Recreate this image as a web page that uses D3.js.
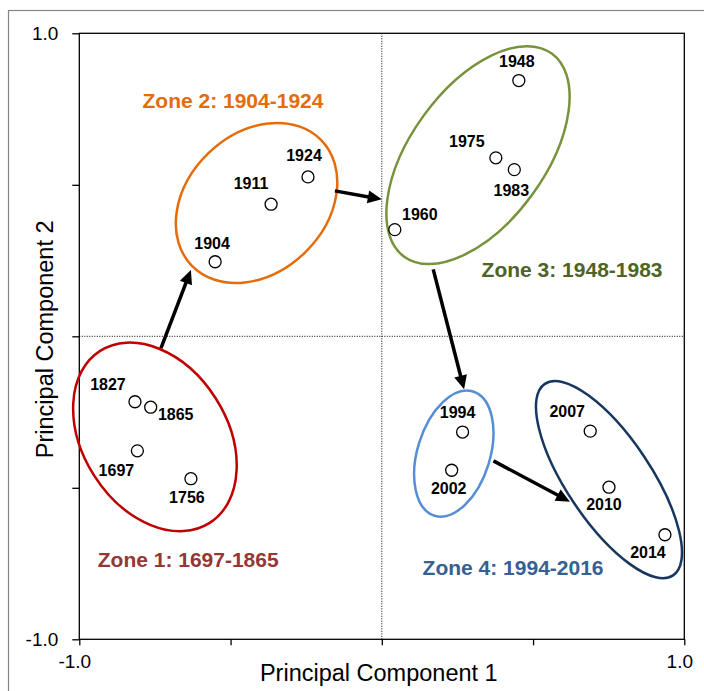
<!DOCTYPE html>
<meta charset="utf-8">
<html>
<head>
    <script src="https://d3js.org/d3.v7.min.js"></script>
    <style>
        body { margin: 0; background: #fff; }
        text { font-family: "Liberation Sans", Arial, sans-serif; }
    </style>
</head>
<body>
<script>
    // Scores on the first two principal components, one per year
    var years = ["1697", "1756", "1827", "1865", "1904", "1911", "1924", "1948",
                 "1960", "1975", "1983", "1994", "2002", "2007", "2010", "2014"];
    var pc1 = [-0.808, -0.631, -0.816, -0.764, -0.551, -0.366, -0.244, 0.453,
               0.043, 0.377, 0.438, 0.267, 0.231, 0.689, 0.751, 0.936];
    var pc2 = [-0.378, -0.470, -0.216, -0.234, 0.246, 0.436, 0.526, 0.844,
               0.352, 0.589, 0.550, -0.316, -0.442, -0.313, -0.498, -0.655];

    // where each year label sits relative to its point (px)
    var labelOffsets = [[-21, 25], [-4, 24], [-27, -12], [25, 13], [-3, -13], [-20, -15],
                        [-4, -16], [-2, -14], [25, -10], [-29, -11], [-3, 26], [-5, -14],
                        [-3, 24], [-23, -14], [-5, 23], [-17, 23]];

    // zone ellipses (centre in PC units, semi axes in PC units, tilt in degrees)
    var zoneCx = [-0.750, -0.414, 0.318, 0.238, 0.751];
    var zoneCy = [-0.332, 0.440, 0.598, -0.387, -0.473];
    var zoneA = [0.337, 0.298, 0.415, 0.215, 0.381];
    var zoneB = [0.238, 0.229, 0.222, 0.120, 0.139];
    var zoneAngle = [57.5, -44, -54, -72.8, 56.2];
    var zoneStroke = ["#C00000", "#E46C0A", "#77933C", "#558ED5", "#17375E"];

    // zone titles
    var zoneTitles = ["Zone 1: 1697-1865", "Zone 2: 1904-1924", "Zone 3: 1948-1983", "Zone 4: 1994-2016"];
    var zoneTitleX = [-0.640, -0.492, 0.629, 0.434];
    var zoneTitleY = [-0.760, 0.752, 0.195, -0.788];
    var zoneTitleColor = ["#953735", "#E46C0A", "#4F6228", "#376092"];

    // arrows between zones: start and tip
    var arrowX1 = [-0.730, -0.155, 0.170, 0.369];
    var arrowY1 = [-0.039, 0.480, 0.221, -0.411];
    var arrowX2 = [-0.631, 0.000, 0.272, 0.622];
    var arrowY2 = [0.219, 0.452, -0.175, -0.546];

    var tickVals = [-1, -0.5, 0, 0.5, 1];

    var width = 704, height = 691;
    var margin = {top: 33.3, left: 79.3};
    var plotW = 605, plotH = 606;

    var svg = d3.select("body").append("svg")
        .attr("width", width)
        .attr("height", height);

    // outer chart border
    svg.append("rect")
        .attr("x", 8.5).attr("y", 10.5)
        .attr("width", 720).attr("height", 720)
        .attr("fill", "none")
        .attr("stroke", "#858585")
        .attr("stroke-width", 1.2);

    var x = d3.scaleLinear().domain([-1, 1]).range([0, plotW]);
    var y = d3.scaleLinear().domain([-1, 1]).range([plotH, 0]);
    var unit = x(1) - x(0);

    var g = svg.append("g")
        .attr("transform", `translate(${margin.left},${margin.top})`);

    // dotted zero lines
    g.append("line")
        .attr("x1", x(0)).attr("x2", x(0))
        .attr("y1", 0).attr("y2", plotH)
        .attr("stroke", "#000").attr("stroke-width", 1)
        .attr("stroke-dasharray", "1,1.5");
    g.append("line")
        .attr("x1", 0).attr("x2", plotW)
        .attr("y1", y(0)).attr("y2", y(0))
        .attr("stroke", "#000").attr("stroke-width", 1)
        .attr("stroke-dasharray", "1,1.5");

    // plot box
    g.append("rect")
        .attr("width", plotW).attr("height", plotH)
        .attr("fill", "none")
        .attr("stroke", "#000")
        .attr("stroke-width", 1.3);

    var fmt = function(d) { return Math.abs(d) === 1 ? d.toFixed(1) : ""; };

    var xAxis = g.append("g")
        .attr("transform", `translate(0,${plotH})`)
        .call(d3.axisBottom(x).tickValues(tickVals).tickSize(6).tickPadding(9).tickFormat(fmt));
    var yAxis = g.append("g")
        .call(d3.axisLeft(y).tickValues(tickVals).tickSize(7).tickPadding(14).tickFormat(fmt));

    [xAxis, yAxis].forEach(function(a) {
        a.select(".domain").remove();
        a.selectAll(".tick line").attr("stroke", "#000").attr("stroke-width", 1.3);
        a.selectAll(".tick text")
            .style("font-family", '"Liberation Sans", Arial, sans-serif')
            .style("font-size", "19px")
            .attr("fill", "#000");
    });
    xAxis.selectAll(".tick text").attr("dx", -5);

    // axis titles
    svg.append("text")
        .attr("x", margin.left + plotW / 2 - 3)
        .attr("y", 681)
        .attr("text-anchor", "middle")
        .style("font-size", "23.5px")
        .text("Principal Component 1");

    svg.append("text")
        .attr("transform", `translate(53,${margin.top + plotH / 2 + 3}) rotate(-90)`)
        .attr("text-anchor", "middle")
        .style("font-size", "23.5px")
        .text("Principal Component 2");

    // zone ellipses
    g.selectAll("ellipse.zone")
        .data(zoneCx)
        .join("ellipse")
        .attr("class", "zone")
        .attr("transform", function(d, i) {
            return `translate(${x(d)},${y(zoneCy[i])}) rotate(${zoneAngle[i]})`;
        })
        .attr("rx", function(d, i) { return zoneA[i] * unit; })
        .attr("ry", function(d, i) { return zoneB[i] * unit; })
        .attr("fill", "none")
        .attr("stroke", function(d, i) { return zoneStroke[i]; })
        .attr("stroke-width", 2.5);

    // arrows
    var headLen = 14, headHalf = 6.5;
    arrowX1.forEach(function(d, i) {
        var sx = x(d), sy = y(arrowY1[i]);
        var tx = x(arrowX2[i]), ty = y(arrowY2[i]);
        var dx = tx - sx, dy = ty - sy;
        var len = Math.sqrt(dx * dx + dy * dy);
        var ux = dx / len, uy = dy / len;
        var bx = tx - ux * headLen, by = ty - uy * headLen;
        g.append("line")
            .attr("x1", sx).attr("y1", sy)
            .attr("x2", bx + ux * 2).attr("y2", by + uy * 2)
            .attr("stroke", "#000")
            .attr("stroke-width", 3.5);
        g.append("path")
            .attr("d", `M${tx},${ty} L${bx - uy * headHalf},${by + ux * headHalf} L${bx + uy * headHalf},${by - ux * headHalf} Z`)
            .attr("fill", "#000");
    });

    // points
    g.selectAll("circle.pt")
        .data(pc1)
        .join("circle")
        .attr("class", "pt")
        .attr("cx", function(d) { return x(d); })
        .attr("cy", function(d, i) { return y(pc2[i]); })
        .attr("r", 6)
        .attr("fill", "#fff")
        .attr("stroke", "#000")
        .attr("stroke-width", 1.3);

    // year labels
    g.selectAll("text.yr")
        .data(years)
        .join("text")
        .attr("class", "yr")
        .attr("x", function(d, i) { return x(pc1[i]) + labelOffsets[i][0]; })
        .attr("y", function(d, i) { return y(pc2[i]) + labelOffsets[i][1]; })
        .attr("text-anchor", "middle")
        .style("font-size", "16px")
        .style("font-weight", "bold")
        .text(function(d) { return d; });

    // zone titles
    g.selectAll("text.zt")
        .data(zoneTitles)
        .join("text")
        .attr("class", "zt")
        .attr("x", function(d, i) { return x(zoneTitleX[i]); })
        .attr("y", function(d, i) { return y(zoneTitleY[i]); })
        .attr("text-anchor", "middle")
        .attr("fill", function(d, i) { return zoneTitleColor[i]; })
        .style("font-size", "21px")
        .style("font-weight", "bold")
        .text(function(d) { return d; });
</script>
</body>
</html>
